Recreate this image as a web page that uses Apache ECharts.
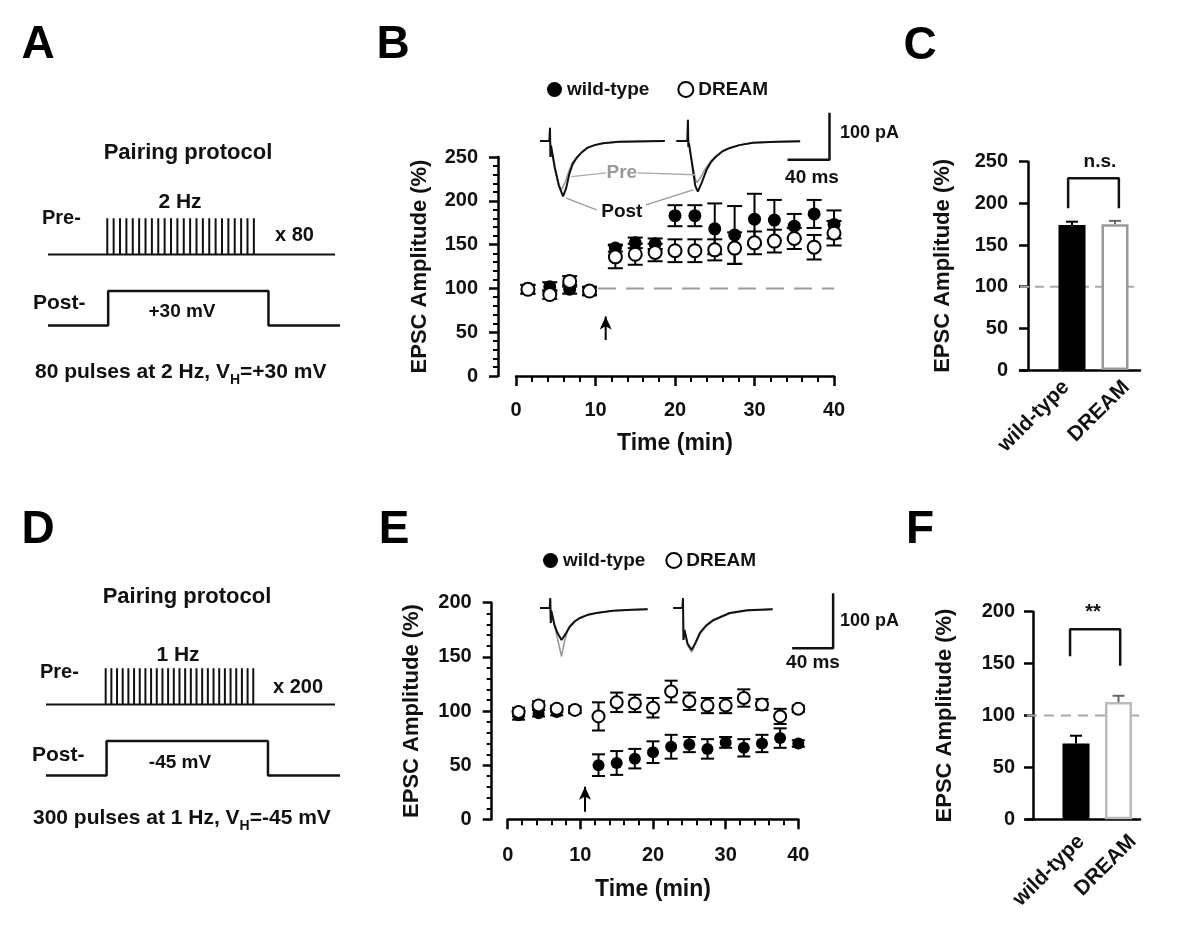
<!DOCTYPE html>
<html lang="en">
<head>
<meta charset="UTF-8" />
<title>Pairing protocol - EPSC amplitude</title>
<script src="https://cdn.jsdelivr.net/npm/echarts@6/dist/echarts.min.js"></script>
<style>
    html, body { margin: 0; padding: 0; background: #fff; }
    #main { width: 1200px; height: 938px; }
</style>
</head>
<body>
<div id="main"></div>
<script>
    var FONT = '"Liberation Sans", Arial, sans-serif';

    // ---- time course data (min / % of baseline) ----
    var timePts = [1.5, 4.25, 6.75, 9.25, 12.5, 15, 17.5, 20, 22.5, 25, 27.5, 30, 32.5, 35, 37.5, 40];

    // B: +30 mV pairing
    var wtB = [99, 102, 99, 97, 146, 152, 151, 183, 183, 168, 161, 179, 178, 171, 185, 173];
    var wtErrB = [5, 5, 5, 4, 4, 6, 6, 12, 12, 29, 33, 29, 23, 14, 16, 16];
    var drB = [99, 93, 108, 97, 136, 139, 141, 143, 143, 144, 146, 152, 154, 157, 147, 163];
    var drErrB = [5, 5, 6, 5, 13, 12, 10, 13, 13, 12, 18, 13, 13, 12, 14, 14];

    // E: -45 mV pairing
    var wtE = [96, 98, 99, 101, 50, 52, 56, 62, 67, 69, 65, 71, 66, 70, 75, 70];
    var wtErrE = [4, 3, 3, 3, 10, 11, 9, 10, 11, 7, 9, 5, 8, 8, 9, 3];
    var drE = [99, 105, 102, 101, 95, 108, 107, 103, 118, 109, 105, 105, 112, 106, 95, 102];
    var drErrE = [4, 4, 3, 3, 13, 9, 8, 9, 10, 8, 7, 7, 8, 5, 7, 3];

    var refLevel = 100;
    var arrowB = [11.28, 41, 68];   // time, from, to
    var arrowE = [10.64, 7, 30];

    // ---- summary bars ----
    var barCats = ['wild-type', 'DREAM'];
    var barC = [174, 175];
    var barErrC = [4, 4];
    var barF = [73, 113];
    var barErrF = [7.5, 6];
    var bracketCx = [-0.09, -0.09, 1.09, 1.09];
    var bracketCy = [194, 230, 230, 194];
    var bracketFx = [-0.14, -0.14, 1.04, 1.04];
    var bracketFy = [157, 183, 183, 148];

    // ---- example EPSC traces (ms, pA) ----
    var trBPre1 = [[0, 0], [9, 0], [9.5, 28], [10, -34], [10.5, -10], [14, -60], [18, -95], [20.5, -104], [24, -88], [28, -62], [31, -46], [35, -34], [40, -23], [45, -15], [52, -9], [60, -5], [75, -2], [119, 0]];
    var trBPost1 = [[0, 0], [9, 0], [9.5, 28], [10, -34], [10.5, -10], [14, -55], [18, -95], [22, -118], [25, -100], [28, -70], [31, -50], [35, -36], [40, -24], [45, -15], [52, -9], [60, -5], [75, -2], [119, 0]];
    var trBPre2 = [[130, 0], [140.5, 0], [141, 45], [141.5, -13], [142, -5], [145, -45], [148, -80], [149.5, -89], [153, -78], [158, -58], [163, -43], [168, -32], [174, -22], [181, -15], [190, -9], [203, -4], [225, -2], [248, -1]];
    var trBPost2 = [[130, 0], [140.5, 0], [141, 45], [141.5, -13], [142, -5], [145, -50], [148, -95], [150.5, -108], [154, -90], [158.7, -62], [163, -45], [168, -33], [174, -22], [181, -15], [190, -9], [203, -4], [225, -2], [248, -1]];
    var trEPre1 = [[0, 0], [9.5, 0], [10, 18], [10.5, -27], [11, -5], [14, -30], [17, -55], [21, -88], [24, -60], [27, -40], [30, -32], [34, -24], [39, -18], [47, -12], [55, -9], [71, -5], [90, -3], [105, -2]];
    var trEPost1 = [[0, 0], [9.5, 0], [10, 18], [10.5, -27], [11, -5], [14, -30], [17, -45], [21, -58], [25, -47], [29, -34], [34, -24], [39, -18], [47, -12], [55, -9], [71, -5], [90, -3], [105, -2]];
    var trEPre2 = [[130, 0], [139, 0], [139.5, 18], [140, -58], [141, -40], [144, -68], [148, -80], [152, -64], [156, -47], [162, -33], [169, -23], [185, -10], [202, -5], [227, -2]];
    var trEPost2 = [[130, 0], [139, 0], [139.5, 18], [140, -58], [141, -40], [144, -65], [148, -76], [152, -62], [156, -45], [162, -32], [169, -22], [185, -9], [202, -4], [227, -2]];
    var preLeaders = [[[30, -76], [63, -68]], [[93, -68], [148, -72]]];
    var postLeaders = [[[25, -122], [54, -147]], [[101, -136], [146, -104]]];
    var scaleBarB = [[236, -40], [276, -40], [276, 60]];
    var scaleBarE = [[246, -73], [286, -73], [286, 27]];

    // ---- pairing protocol schematic (arbitrary units) ----
    var pulseCount = [24, 27];       // A, D
    var preLevel = [61, 87];         // baseline, pulse top
    var postLevel = [10.4, 35];      // holding, step
    var trainSpan = [20.3, 70.5];
    var stepSpan = [20.6, 75.5];
    var protoEnd = [98.3, 100];

    function pairs(xs, ys) {
        return xs.map(function (x, i) { return [x, ys[i]]; });
    }
    function triples(xs, ys, es) {
        return xs.map(function (x, i) { return [x, ys[i], es[i]]; });
    }
    function preProtocol(n) {
        var d = [[0, preLevel[0]]];
        var step = (trainSpan[1] - trainSpan[0]) / (n - 1);
        for (var i = 0; i < n; i++) {
            var t = trainSpan[0] + i * step;
            d.push([t, preLevel[0]], [t, preLevel[1]], [t, preLevel[0]]);
        }
        d.push([protoEnd[0], preLevel[0]]);
        return d;
    }
    var postProtocol = [[0, postLevel[0]], [stepSpan[0], postLevel[0]], [stepSpan[0], postLevel[1]],
        [stepSpan[1], postLevel[1]], [stepSpan[1], postLevel[0]], [protoEnd[1], postLevel[0]]];

    function errRender(color, cap, both) {
        return function (params, api) {
            var x = api.value(0), y = api.value(1), e = api.value(2);
            var hi = api.coord([x, y + e]);
            var lo = api.coord([x, both ? y - e : y]);
            var st = { stroke: color, lineWidth: 2 };
            var kids = [
                { type: 'line', shape: { x1: hi[0], y1: hi[1], x2: lo[0], y2: lo[1] }, style: st },
                { type: 'line', shape: { x1: hi[0] - cap, y1: hi[1], x2: hi[0] + cap, y2: hi[1] }, style: st }
            ];
            if (both) {
                kids.push({ type: 'line', shape: { x1: lo[0] - cap, y1: lo[1], x2: lo[0] + cap, y2: lo[1] }, style: st });
            }
            return { type: 'group', children: kids };
        };
    }

    var labelStyle = { fontFamily: FONT, fontWeight: 'bold', fontSize: 20, color: '#111' };
    var nameStyle = { fontFamily: FONT, fontWeight: 'bold', fontSize: 22, color: '#111' };

    function hiddenAxis(gi, min, max) {
        return { gridIndex: gi, type: 'value', min: min, max: max, show: false };
    }
    function timeAxis(gi, margin, gap) {
        return {
            gridIndex: gi, type: 'value', min: 0, max: 40, interval: 10,
            name: 'Time (min)', nameLocation: 'middle', nameGap: gap,
            nameTextStyle: { fontFamily: FONT, fontWeight: 'bold', fontSize: 23, color: '#111' },
            axisLine: { show: true, onZero: false, lineStyle: { color: '#000', width: 2.5 } },
            axisTick: { show: true, length: 10, lineStyle: { color: '#000', width: 2.5 } },
            minorTick: { show: true, splitNumber: 5, length: 6, lineStyle: { color: '#000', width: 2 } },
            splitLine: { show: false },
            axisLabel: Object.assign({ margin: margin }, labelStyle)
        };
    }
    function ampAxis(gi, max, offset, gap, minor, margin) {
        return {
            gridIndex: gi, type: 'value', min: 0, max: max, interval: 50, offset: offset,
            name: 'EPSC Amplitude (%)', nameLocation: 'middle', nameGap: gap, nameTextStyle: nameStyle,
            axisLine: { show: true, onZero: false, lineStyle: { color: '#000', width: 2.5 } },
            axisTick: { show: true, length: 9, lineStyle: { color: '#000', width: 2.5 } },
            minorTick: { show: minor, splitNumber: 5, length: 5, lineStyle: { color: '#000', width: 2 } },
            splitLine: { show: false },
            axisLabel: Object.assign({ margin: margin }, labelStyle)
        };
    }
    function catAxis(gi, min, max, labelPos, margin) {
        return {
            gridIndex: gi, type: 'value', min: min, max: max,
            axisLine: { show: true, onZero: false, lineStyle: { color: '#000', width: 2.5 } },
            axisTick: { show: false },
            splitLine: { show: false },
            axisLabel: {
                customValues: labelPos, rotate: 45, margin: margin,
                fontFamily: FONT, fontWeight: 'bold', fontSize: 21, color: '#111',
                formatter: function (v) { return v < 0.5 ? barCats[0] : barCats[1]; }
            }
        };
    }

    function lineS(gi, data, color, width, z, dash) {
        return {
            type: 'line', xAxisIndex: gi, yAxisIndex: gi, data: data, symbol: 'none', silent: true, z: z || 2,
            lineStyle: { color: color, width: width, type: dash || 'solid', opacity: 1 }
        };
    }
    function textS(gi, pos, text, color, size) {
        return {
            type: 'scatter', xAxisIndex: gi, yAxisIndex: gi, data: [pos], symbolSize: 1, clip: false,
            itemStyle: { color: 'rgba(0,0,0,0)', opacity: 1 }, silent: true, z: 6,
            label: {
                show: true, position: 'inside', formatter: text, color: color, opacity: 1,
                fontFamily: FONT, fontWeight: 'bold', fontSize: size
            }
        };
    }
    function arrowS(gi, a) {
        return {
            type: 'line', xAxisIndex: gi, yAxisIndex: gi, silent: true, z: 2,
            lineStyle: { color: '#000', width: 2 },
            itemStyle: { color: '#000', opacity: 1 },
            data: [
                { value: [a[0], a[1]], symbol: 'none' },
                { value: [a[0], a[2]], symbol: 'arrow', symbolSize: [9, 13] }
            ]
        };
    }
    function timeCourse(gi, wt, wtErr, dr, drErr, size, cap) {
        return [
            {
                type: 'custom', xAxisIndex: gi, yAxisIndex: gi, z: 2, silent: true,
                data: triples(timePts, wt, wtErr), renderItem: errRender('#000', cap, true)
            },
            {
                type: 'scatter', name: 'wild-type', xAxisIndex: gi, yAxisIndex: gi, z: 3,
                symbol: 'circle', symbolSize: size, itemStyle: { color: '#000', opacity: 1 },
                data: pairs(timePts, wt)
            },
            {
                type: 'custom', xAxisIndex: gi, yAxisIndex: gi, z: 4, silent: true,
                data: triples(timePts, dr, drErr), renderItem: errRender('#000', cap, true)
            },
            {
                type: 'scatter', name: 'DREAM', xAxisIndex: gi, yAxisIndex: gi, z: 5,
                symbol: 'circle', symbolSize: size,
                itemStyle: { color: '#fff', borderColor: '#000', borderWidth: 2, opacity: 1 },
                data: pairs(timePts, dr)
            }
        ];
    }
    function bars(gi, vals, errs, fillBorder, xMin, xMax, dash) {
        return [
            lineS(gi, [[xMin, refLevel], [xMax, refLevel]], '#aaa', 2, 1, dash),
            {
                type: 'bar', xAxisIndex: gi, yAxisIndex: gi, barWidth: 27, z: 3, silent: true,
                data: [
                    { value: [0, vals[0]], itemStyle: { color: '#000', opacity: 1 } },
                    { value: [1, vals[1]], itemStyle: { color: '#fff', borderColor: fillBorder, borderWidth: 2.5, opacity: 1 } }
                ]
            },
            {
                type: 'custom', xAxisIndex: gi, yAxisIndex: gi, z: 2, silent: true,
                data: [[0, vals[0], errs[0]]], renderItem: errRender('#000', 6, false)
            },
            {
                type: 'custom', xAxisIndex: gi, yAxisIndex: gi, z: 2, silent: true,
                data: [[1, vals[1], errs[1]]], renderItem: errRender('#666', 6, false)
            }
        ];
    }

    function gtext(x, y, text, size, align, color) {
        return {
            type: 'text', x: x, y: y, silent: true, z: 10,
            style: {
                text: text, fill: color || '#111', font: 'bold ' + size + 'px ' + FONT,
                align: align || 'left', verticalAlign: 'middle',
                textAlign: align || 'left', textVerticalAlign: 'middle'
            }
        };
    }
    function vhText(x, y, text) {
        return {
            type: 'text', x: x, y: y, silent: true, z: 10,
            style: {
                text: text, fill: '#111', font: 'bold 21px ' + FONT, lineHeight: 30,
                align: 'left', verticalAlign: 'middle', textAlign: 'left', textVerticalAlign: 'middle',
                rich: {
                    sub: { fontFamily: FONT, fontWeight: 'bold', fontSize: 14, lineHeight: 14, verticalAlign: 'bottom', fill: '#111', color: '#111' }
                }
            }
        };
    }

    var grids = [
        { left: 48, top: 200, width: 292, height: 140 },          // 0 A protocol
        { left: 46, top: 650, width: 294, height: 140 },          // 1 D protocol
        { left: 516, top: 157, width: 318, height: 219 },         // 2 B
        { left: 540, top: 100, width: 300, height: 117.5 },       // 3 B traces
        { left: 1020, top: 161.7, width: 120, height: 208.3 },    // 4 C
        { left: 507.7, top: 602.7, width: 290.6, height: 216.6 }, // 5 E
        { left: 540, top: 580, width: 300, height: 110 },         // 6 E traces
        { left: 1027, top: 611.7, width: 113, height: 207.6 }     // 7 F
    ].map(function (g) {
        g.containLabel = false;
        g.outerBoundsMode = 'none';
        return g;
    });

    var cMin = -1.209, cMax = 1.581, fMin = -1.153, fMax = 1.506;

    var xAxes = [
        hiddenAxis(0, 0, 100),
        hiddenAxis(1, 0, 100),
        timeAxis(2, 24, 56),
        hiddenAxis(3, 0, 286),
        catAxis(4, cMin, cMax, [-0.14, 1.26], 14),
        timeAxis(5, 26, 59),
        hiddenAxis(6, 0, 292.7),
        catAxis(7, fMin, fMax, [0.12, 1.34], 19)
    ];
    var yAxes = [
        hiddenAxis(0, 0, 100),
        hiddenAxis(1, 0, 100),
        ampAxis(2, 250, 18, 67, true, 20),
        hiddenAxis(3, -163, 87),
        ampAxis(4, 250, -8, 74, false, 20),
        ampAxis(5, 200, 16, 69, true, 20),
        hiddenAxis(6, -149, 51),
        ampAxis(7, 200, -6, 77, false, 18)
    ];

    var series = [
        // protocols
        lineS(0, preProtocol(pulseCount[0]), '#111', 2),
        lineS(0, postProtocol, '#111', 2.5),
        lineS(1, preProtocol(pulseCount[1]), '#111', 2),
        lineS(1, postProtocol, '#111', 2.5),
        // B
        lineS(2, [[10.3, refLevel], [40, refLevel]], '#999', 2, 1, [18, 10]),
        arrowS(2, arrowB),
        // B traces
        lineS(3, trBPre1, '#999', 1.6),
        lineS(3, trBPost1, '#111', 2),
        lineS(3, trBPre2, '#999', 1.6),
        lineS(3, trBPost2, '#111', 2),
        lineS(3, preLeaders[0], '#aaa', 1.3),
        lineS(3, preLeaders[1], '#aaa', 1.3),
        lineS(3, postLeaders[0], '#999', 1.3),
        lineS(3, postLeaders[1], '#999', 1.3),
        lineS(3, scaleBarB, '#111', 2.5),
        textS(3, [78, -68], 'Pre', '#999', 19),
        textS(3, [78, -150], 'Post', '#111', 19),
        // E
        arrowS(5, arrowE),
        lineS(6, trEPre1, '#999', 1.6),
        lineS(6, trEPost1, '#111', 2),
        lineS(6, trEPre2, '#999', 1.6),
        lineS(6, trEPost2, '#111', 2),
        lineS(6, scaleBarE, '#111', 2.5),
        // C / F brackets
        lineS(4, pairs(bracketCx, bracketCy), '#111', 2.5, 4),
        textS(4, [0.65, 250], 'n.s.', '#111', 19),
        lineS(7, pairs(bracketFx, bracketFy), '#111', 2.5, 4),
        textS(7, [0.4, 199], '**', '#111', 20)
    ];
    series = series.concat(timeCourse(2, wtB, wtErrB, drB, drErrB, 13, 7.5));
    series = series.concat(timeCourse(5, wtE, wtErrE, drE, drErrE, 12, 6.5));
    series = series.concat(bars(4, barC, barErrC, '#999', cMin, cMax, [9, 6]));
    series = series.concat(bars(7, barF, barErrF, '#bbb', fMin, fMax, [10, 7]));

    var legendText = { fontFamily: FONT, fontWeight: 'bold', fontSize: 19, color: '#111' };
    var legendData = [
        { name: 'wild-type', itemStyle: { color: '#000', opacity: 1 } },
        { name: 'DREAM', itemStyle: { color: '#fff', borderColor: '#000', borderWidth: 2, opacity: 1 } }
    ];

    var option = {
        animation: false,
        backgroundColor: '#fff',
        grid: grids,
        xAxis: xAxes,
        yAxis: yAxes,
        legend: [
            { left: 547, top: 80, padding: 0, itemWidth: 15, itemHeight: 15, itemGap: 28, icon: 'circle', selectedMode: false, textStyle: legendText, data: legendData },
            { left: 543, top: 551, padding: 0, itemWidth: 15, itemHeight: 15, itemGap: 20, icon: 'circle', selectedMode: false, textStyle: legendText, data: legendData }
        ],
        graphic: [
            gtext(38, 45, 'A', 46, 'center', '#000'),
            gtext(393, 45, 'B', 46, 'center', '#000'),
            gtext(920, 46, 'C', 46, 'center', '#000'),
            gtext(38, 530, 'D', 46, 'center', '#000'),
            gtext(394, 530, 'E', 46, 'center', '#000'),
            gtext(920, 530, 'F', 46, 'center', '#000'),
            // A
            gtext(188, 153, 'Pairing protocol', 22, 'center'),
            gtext(180, 202, '2 Hz', 21, 'center'),
            gtext(42, 218, 'Pre-', 20),
            gtext(275, 235, 'x 80', 20),
            gtext(33, 303, 'Post-', 21),
            gtext(182, 312, '+30 mV', 19, 'center'),
            vhText(35, 372, '80 pulses at 2 Hz, V{sub|H}=+30 mV'),
            // D
            gtext(187, 597, 'Pairing protocol', 22, 'center'),
            gtext(178, 655, '1 Hz', 21, 'center'),
            gtext(40, 672, 'Pre-', 20),
            gtext(273, 687, 'x 200', 20),
            gtext(32, 755, 'Post-', 21),
            gtext(180, 763, '-45 mV', 19, 'center'),
            vhText(33, 818, '300 pulses at 1 Hz, V{sub|H}=-45 mV'),
            // scale bar labels
            gtext(840, 133, '100 pA', 18),
            gtext(812, 178, '40 ms', 19, 'center'),
            gtext(840, 621, '100 pA', 18),
            gtext(813, 663, '40 ms', 19, 'center')
        ],
        series: series
    };

    var myChart = echarts.init(document.getElementById('main'));
    myChart.setOption(option);
</script>
</body>
</html>
